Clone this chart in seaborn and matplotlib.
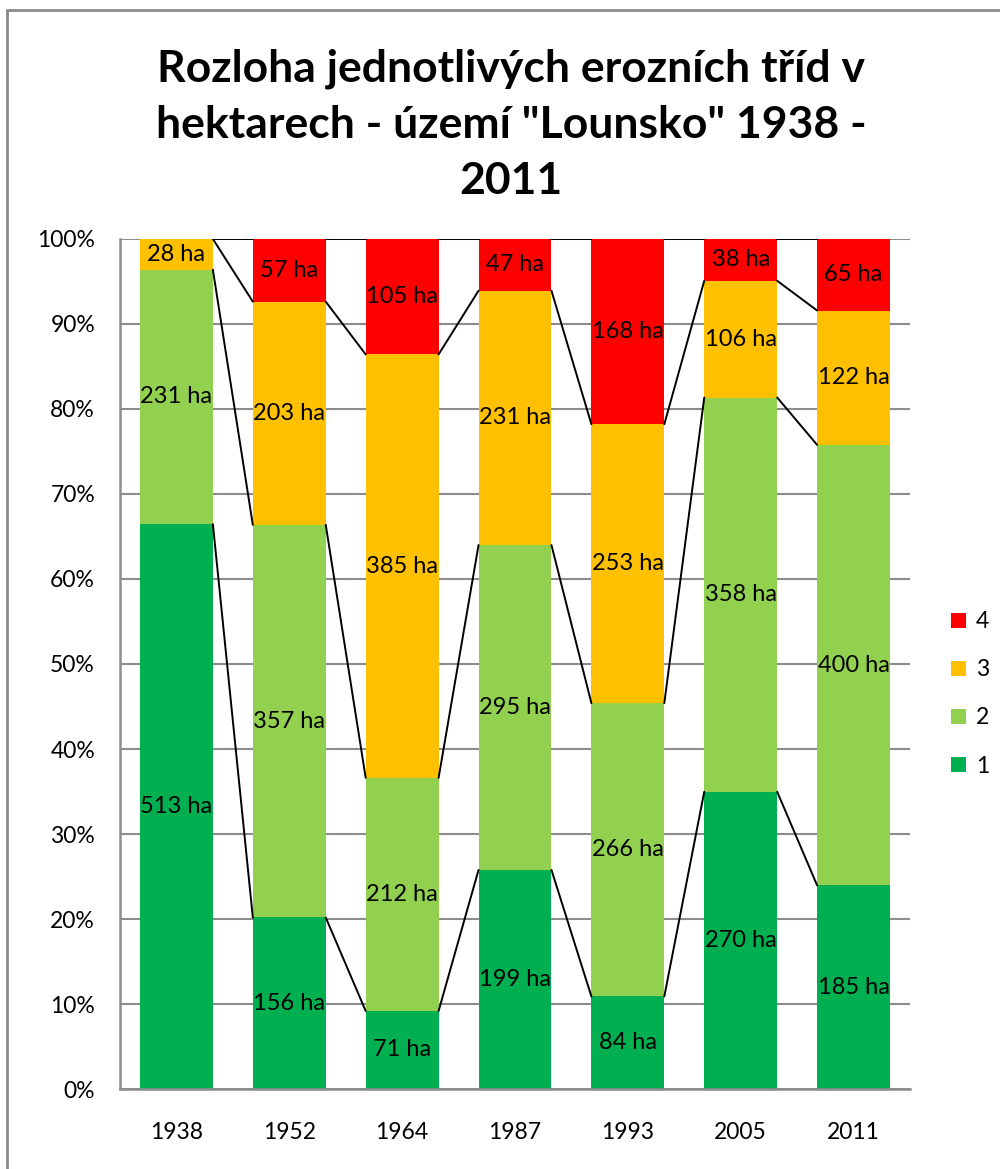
import numpy as np
import matplotlib
matplotlib.use("Agg")
import matplotlib.pyplot as plt
import seaborn as sns
from matplotlib.patches import Patch
from matplotlib.lines import Line2D
from matplotlib.ticker import PercentFormatter

# =======================
# data (ha per erosion class)
# =======================
years = ["1938", "1952", "1964", "1987", "1993", "2005", "2011"]
class_1 = [513, 156, 71, 199, 84, 270, 185]
class_2 = [231, 357, 212, 295, 266, 358, 400]
class_3 = [28, 203, 385, 231, 253, 106, 122]
class_4 = [0, 57, 105, 47, 168, 38, 65]
class_names = ["1", "2", "3", "4"]
class_colors = ["#00B050", "#92D050", "#FFC000", "#FF0000"]

series = np.array([class_1, class_2, class_3, class_4], dtype=float)
totals = series.sum(axis=0)
shares = series / totals
cum = np.cumsum(shares, axis=0)

# =======================
# figure
# =======================
sns.set_theme(style="white")
plt.rcParams["font.family"] = ["Lato", "DejaVu Sans"]
plt.rcParams["text.color"] = "black"

fig = plt.figure(figsize=(10, 11.69), dpi=100)
ax = fig.add_axes([0.12, 0.0684, 0.79, 0.7272])

bar_w = 0.646
# stacked bars: draw cumulative tops from the highest series down
for k in range(3, -1, -1):
    sns.barplot(x=years, y=cum[k], color=class_colors[k], saturation=1,
                width=bar_w, errorbar=None, ax=ax, zorder=2,
                edgecolor="none", linewidth=0)

# series lines between neighbouring bars
for k in range(4):
    for i in range(len(years) - 1):
        ax.add_line(Line2D([i + bar_w / 2, i + 1 - bar_w / 2],
                           [cum[k][i], cum[k][i + 1]],
                           color="black", lw=1.4, zorder=3))

# data labels
for k in range(4):
    for i in range(len(years)):
        if series[k][i] == 0:
            continue
        yc = cum[k][i] - shares[k][i] / 2
        ax.text(i, yc, f"{int(series[k][i])} ha", ha="center", va="center",
                fontsize=17, color="black", zorder=4)

ax.set_ylim(0, 1)
ax.set_xlim(-0.5, len(years) - 0.5)
ax.yaxis.set_major_locator(plt.MultipleLocator(0.1))
ax.yaxis.set_major_formatter(PercentFormatter(1.0, decimals=0))
ax.grid(axis="y", color="#8c8c8c", lw=1.5, zorder=0)
ax.set_axisbelow(True)
ax.set_xlabel("")
ax.set_ylabel("")
ax.tick_params(axis="y", length=0, pad=18, labelsize=16.5, labelcolor="black")
ax.tick_params(axis="x", length=0, pad=24, labelsize=16.5, labelcolor="black")
for s in ["top", "right"]:
    ax.spines[s].set_visible(False)
for s in ["left", "bottom"]:
    ax.spines[s].set_color("#8c8c8c")
    ax.spines[s].set_linewidth(1.8)

# legend
handles = [Patch(facecolor=class_colors[k], edgecolor="none") for k in range(3, -1, -1)]
labels = [class_names[k] for k in range(3, -1, -1)]
fig.legend(handles, labels, loc="upper left", bbox_to_anchor=(0.951, 0.477),
           frameon=False, fontsize=16.5, handlelength=0.65, handleheight=0.65,
           handletextpad=0.45, labelspacing=1.18, borderpad=0, borderaxespad=0)

# title
fig.text(0.511, 0.893, "Rozloha jednotlivých erozních tříd v\nhektarech - území \"Lounsko\" 1938 -\n2011",
         ha="center", va="center", fontsize=32, fontweight="bold", linespacing=1.48,
         color="black")

# outer frame (left and top visible)
fig.add_artist(Line2D([0.007, 0.007], [0, 0.9915], transform=fig.transFigure,
                      color="#8c8c8c", lw=2))
fig.add_artist(Line2D([0.007, 1.0], [0.9915, 0.9915], transform=fig.transFigure,
                      color="#8c8c8c", lw=2))

fig.savefig("out.png", dpi=100)
